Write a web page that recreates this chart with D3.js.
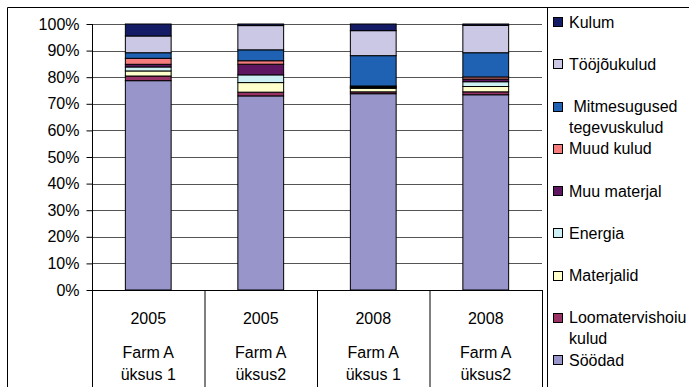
<!DOCTYPE html>
<html>
<head>
<meta charset="utf-8">
<script src="https://cdn.jsdelivr.net/npm/d3@7/dist/d3.min.js"></script>
<style>
  html, body { margin: 0; padding: 0; background: #fff; }
  svg text { font-family: "Liberation Sans", Arial, sans-serif; font-size: 16px; fill: #000; }
</style>
</head>
<body>
<svg id="chart" width="689" height="387"></svg>
<script>
// Category labels (three rows in the table under the axis)
const years = ["2005", "2005", "2008", "2008"];
const farms = ["Farm A", "Farm A", "Farm A", "Farm A"];
const units = ["üksus 1", "üksus2", "üksus 1", "üksus2"];

// Cost shares per category, % (stacked bottom to top)
const soodad        = [78.7, 72.9, 73.8, 73.4];
const loomatervis   = [1.75, 1.4, 0.7, 1.1];
const materjalid    = [1.9, 3.6, 1.3, 2.0];
const energia       = [1.5, 2.9, 0.3, 1.8];
const muuMaterjal   = [1.0, 4.0, 0.3, 1.0];
const muudKulud     = [2.25, 1.3, 0.3, 0.8];
const mitmesugused  = [2.1, 4.1, 11.4, 9.1];
const toojoukulud   = [6.3, 9.1, 9.4, 10.3];
const kulum         = [4.5, 0.6, 2.5, 0.5];

const seriesNames = ["Söödad", "Loomatervishoiu kulud", "Materjalid", "Energia",
  "Muu materjal", "Muud kulud", "Mitmesugused tegevuskulud", "Tööjõukulud", "Kulum"];
const seriesValues = [soodad, loomatervis, materjalid, energia, muuMaterjal,
  muudKulud, mitmesugused, toojoukulud, kulum];
const seriesColors = ["#9795c9", "#993366", "#ffffcc", "#ccf0f4", "#5e1660",
  "#f47c7c", "#1f62b3", "#cbc8e6", "#141c66"];

// Legend entries top to bottom, wrapped as in the legend box
const legendOrder = seriesNames.slice().reverse();
const legendText = {
  "Kulum": ["Kulum"],
  "Tööjõukulud": ["Tööjõukulud"],
  "Mitmesugused tegevuskulud": [" Mitmesugused", "tegevuskulud"],
  "Muud kulud": ["Muud kulud"],
  "Muu materjal": ["Muu materjal"],
  "Energia": ["Energia"],
  "Materjalid": ["Materjalid"],
  "Loomatervishoiu kulud": ["Loomatervishoiu", "kulud"],
  "Söödad": ["Söödad"]
};
const yTicks = d3.range(0, 1.0001, 0.1);

const svg = d3.select("#chart");
const plot = { left: 92, right: 542, top: 24, bottom: 290 };

const rows = years.map((y, i) => {
  const r = { key: i };
  seriesNames.forEach((n, s) => { r[n] = seriesValues[s][i]; });
  return r;
});
const stacked = d3.stack().keys(seriesNames).offset(d3.stackOffsetExpand)(rows);

const x = d3.scaleBand().domain(d3.range(years.length))
  .range([plot.left, plot.right]).paddingInner(0.593).paddingOuter(0.2965);
const xCell = d3.scaleBand().domain(d3.range(years.length))
  .range([plot.left, plot.right]);
const y = d3.scaleLinear().domain([0, 1]).range([plot.bottom, plot.top]);

// Outer frame
svg.append("path").attr("d", "M7.5,387 V7.5 H689")
  .attr("fill", "none").attr("stroke", "#000");

// Gridlines
svg.append("g").selectAll("line").data(yTicks.filter(t => t > 0)).join("line")
  .attr("x1", plot.left).attr("x2", plot.right)
  .attr("y1", d => Math.round(y(d)) + 0.5).attr("y2", d => Math.round(y(d)) + 0.5)
  .attr("stroke", "#555").attr("stroke-width", 1);

// Stacked bars
svg.append("g").selectAll("g").data(stacked).join("g")
  .attr("fill", (d, i) => seriesColors[i])
  .selectAll("rect").data(d => d).join("rect")
  .attr("x", (d, i) => x(i))
  .attr("width", x.bandwidth())
  .attr("y", d => y(d[1]))
  .attr("height", d => y(d[0]) - y(d[1]))
  .attr("stroke", "#000").attr("stroke-width", 1);

// Y axis
const yAxis = d3.axisLeft(y).tickValues(yTicks).tickFormat(d3.format(".0%"))
  .tickSize(6).tickPadding(7);
const ya = svg.append("g").attr("transform", `translate(${plot.left + 0.5},0)`).call(yAxis);
ya.select(".domain").remove();
ya.selectAll(".tick line").attr("stroke", "#000");
ya.selectAll(".tick text").style("font-size", "16px")
  .attr("font-family", null);
svg.append("line").attr("x1", plot.left + 0.5).attr("x2", plot.left + 0.5)
  .attr("y1", plot.top).attr("y2", 387).attr("stroke", "#000");

// Data table under the axis
svg.append("line").attr("x1", plot.left).attr("x2", plot.right + 1)
  .attr("y1", plot.bottom + 0.5).attr("y2", plot.bottom + 0.5).attr("stroke", "#000");
svg.append("g").selectAll("line").data(d3.range(years.length)).join("line")
  .attr("x1", i => xCell(i) + xCell.bandwidth() + 0.5)
  .attr("x2", i => xCell(i) + xCell.bandwidth() + 0.5)
  .attr("y1", plot.bottom).attr("y2", 387).attr("stroke", "#000");

const labels = svg.append("g").attr("text-anchor", "middle");
[[years, 318], [farms, 352], [units, 374]].forEach(([arr, yy]) => {
  labels.append("g").selectAll("text").data(arr).join("text")
    .attr("x", (d, i) => xCell(i) + xCell.bandwidth() / 2)
    .attr("y", yy).attr("dy", "0.35em").text(d => d);
});

// Legend
svg.append("line").attr("x1", 547.5).attr("x2", 547.5).attr("y1", 7).attr("y2", 387)
  .attr("stroke", "#000");
const lg = svg.append("g");
legendOrder.forEach((name, i) => {
  const cy = 22 + i * 42.25;
  const s = seriesNames.indexOf(name);
  lg.append("rect").attr("x", 553.5).attr("y", Math.round(cy - 5) + 0.5)
    .attr("width", 9).attr("height", 9)
    .attr("fill", seriesColors[s]).attr("stroke", "#000");
  legendText[name].forEach((line, k) => {
    lg.append("text").attr("x", 569).attr("y", cy + k * 21).attr("dy", "0.35em")
      .style("white-space", "pre").text(line);
  });
});
</script>
</body>
</html>
